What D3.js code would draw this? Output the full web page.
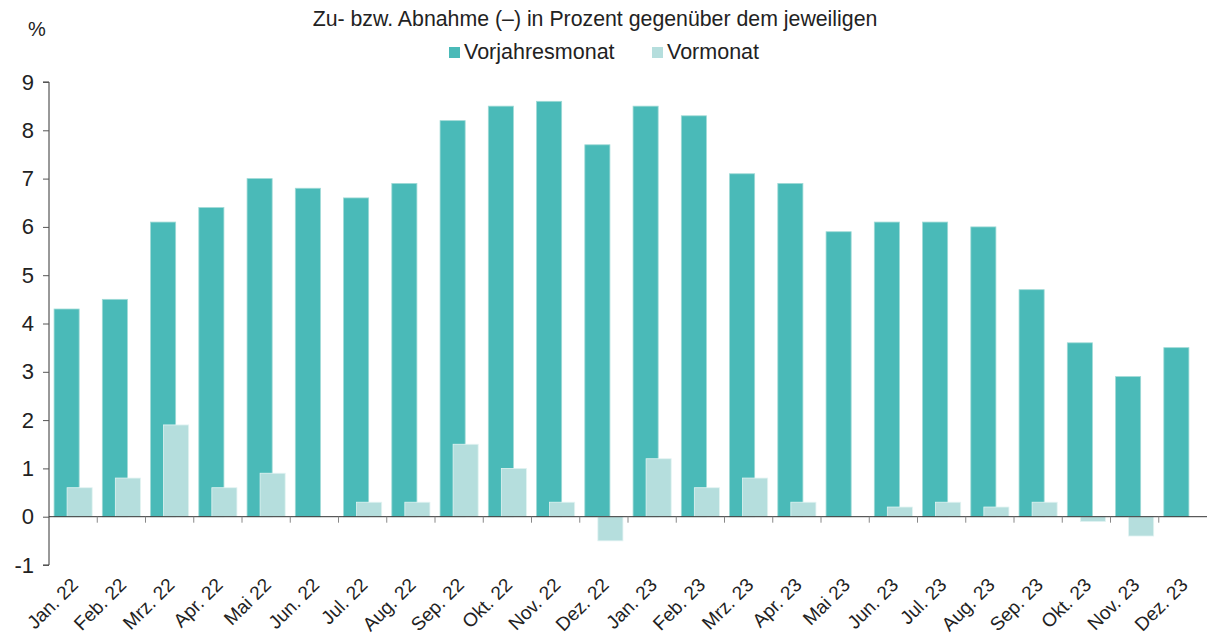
<html>
<head>
<meta charset="utf-8">
<script src="https://d3js.org/d3.v7.min.js"></script>
<style>
body { margin:0; background:#fff; }
svg { font-family: "Liberation Sans", Arial, sans-serif; }
</style>
</head>
<body>
<svg id="chart" width="1207" height="639"></svg>
<script>
const months = ["Jan. 22","Feb. 22","Mrz. 22","Apr. 22","Mai 22","Jun. 22","Jul. 22","Aug. 22","Sep. 22","Okt. 22","Nov. 22","Dez. 22",
                "Jan. 23","Feb. 23","Mrz. 23","Apr. 23","Mai 23","Jun. 23","Jul. 23","Aug. 23","Sep. 23","Okt. 23","Nov. 23","Dez. 23"];
const vorjahresmonat = [4.3,4.5,6.1,6.4,7.0,6.8,6.6,6.9,8.2,8.5,8.6,7.7,8.5,8.3,7.1,6.9,5.9,6.1,6.1,6.0,4.7,3.6,2.9,3.5];
const vormonat = [0.6,0.8,1.9,0.6,0.9,0.0,0.3,0.3,1.5,1.0,0.3,-0.5,1.2,0.6,0.8,0.3,0.0,0.2,0.3,0.2,0.3,-0.1,-0.4,0.0];
const yTicks = [-1,0,1,2,3,4,5,6,7,8,9];
const seriesNames = ["Vorjahresmonat","Vormonat"];
const colors = ["#4abab8","#b5dedd"];

const svg = d3.select("#chart");
const mLeft = 49, mRight = 1207, mTop = 82, mBottom = 565;

const x = d3.scaleBand().domain(months).range([mLeft, mRight]).padding(0);
const y = d3.scaleLinear().domain([-1, 9]).range([mBottom, mTop]);
const bw = x.bandwidth();

// bars
const data = months.map((m, i) => ({m: m, a: vorjahresmonat[i], b: vormonat[i]}));

svg.selectAll(".bar-a").data(data).enter().append("rect")
  .attr("class","bar-a")
  .attr("x", d => x(d.m) + bw * 0.105)
  .attr("width", bw * 0.52)
  .attr("y", d => y(Math.max(0, d.a)))
  .attr("height", d => Math.abs(y(d.a) - y(0)))
  .attr("fill", colors[0])
  .attr("stroke", "#9fdad6").attr("stroke-width", 0.8);

svg.selectAll(".bar-b").data(data.filter(d => d.b !== 0)).enter().append("rect")
  .attr("class","bar-b")
  .attr("x", d => x(d.m) + bw * 0.375)
  .attr("width", bw * 0.52)
  .attr("y", d => y(Math.max(0, d.b)))
  .attr("height", d => Math.abs(y(d.b) - y(0)))
  .attr("fill", colors[1])
  .attr("stroke", "#e2f3f2").attr("stroke-width", 0.8);

// y axis
const yAxis = svg.append("g")
  .attr("transform", `translate(${mLeft},0)`)
  .call(d3.axisLeft(y).tickValues(yTicks).tickSize(6).tickPadding(9).tickFormat(d => String(d)));
yAxis.select(".domain").attr("stroke", "#333").attr("d", `M-6,${y(9)}H0V${y(-1)}H-6`);
yAxis.selectAll(".tick line").attr("stroke", "#555");
yAxis.selectAll(".tick text").attr("font-size", 22).attr("fill", "#222")
  .attr("font-family", "Liberation Sans, Arial, sans-serif");

// x axis line at zero with ticks at category boundaries
svg.append("line")
  .attr("x1", mLeft).attr("x2", mRight)
  .attr("y1", y(0)).attr("y2", y(0))
  .attr("stroke", "#333").attr("stroke-width", 1);
svg.selectAll(".xtick").data(months.slice(1)).enter().append("line")
  .attr("x1", d => x(d)).attr("x2", d => x(d))
  .attr("y1", y(0)).attr("y2", y(0) + 6)
  .attr("stroke", "#888").attr("stroke-width", 1);

// x labels
svg.selectAll(".xlabel").data(months).enter().append("text")
  .attr("transform", d => `translate(${x(d) + bw / 2 + 6},${586}) rotate(-45)`)
  .attr("text-anchor", "end")
  .attr("font-size", 19)
  .attr("fill", "#222")
  .text(d => d);

// unit
svg.append("text").attr("x", 28).attr("y", 36).attr("font-size", 20).attr("fill", "#222").text("%");

// title
svg.append("text").attr("x", 595).attr("y", 26).attr("text-anchor", "middle")
  .attr("font-size", 21.3).attr("fill", "#222")
  .text("Zu- bzw. Abnahme (\u2013) in Prozent gegen\u00fcber dem jeweiligen");

// legend
const legendX = [449, 652];
const lg = svg.selectAll(".lg").data(seriesNames).enter().append("g")
  .attr("transform", (d, i) => `translate(${legendX[i]},0)`);
lg.append("rect").attr("x", 0).attr("y", 47).attr("width", 11).attr("height", 11)
  .attr("fill", (d, i) => colors[i]);
lg.append("text").attr("x", 15).attr("y", 59).attr("font-size", 21.5).attr("fill", "#222").text(d => d);
</script>
</body>
</html>
